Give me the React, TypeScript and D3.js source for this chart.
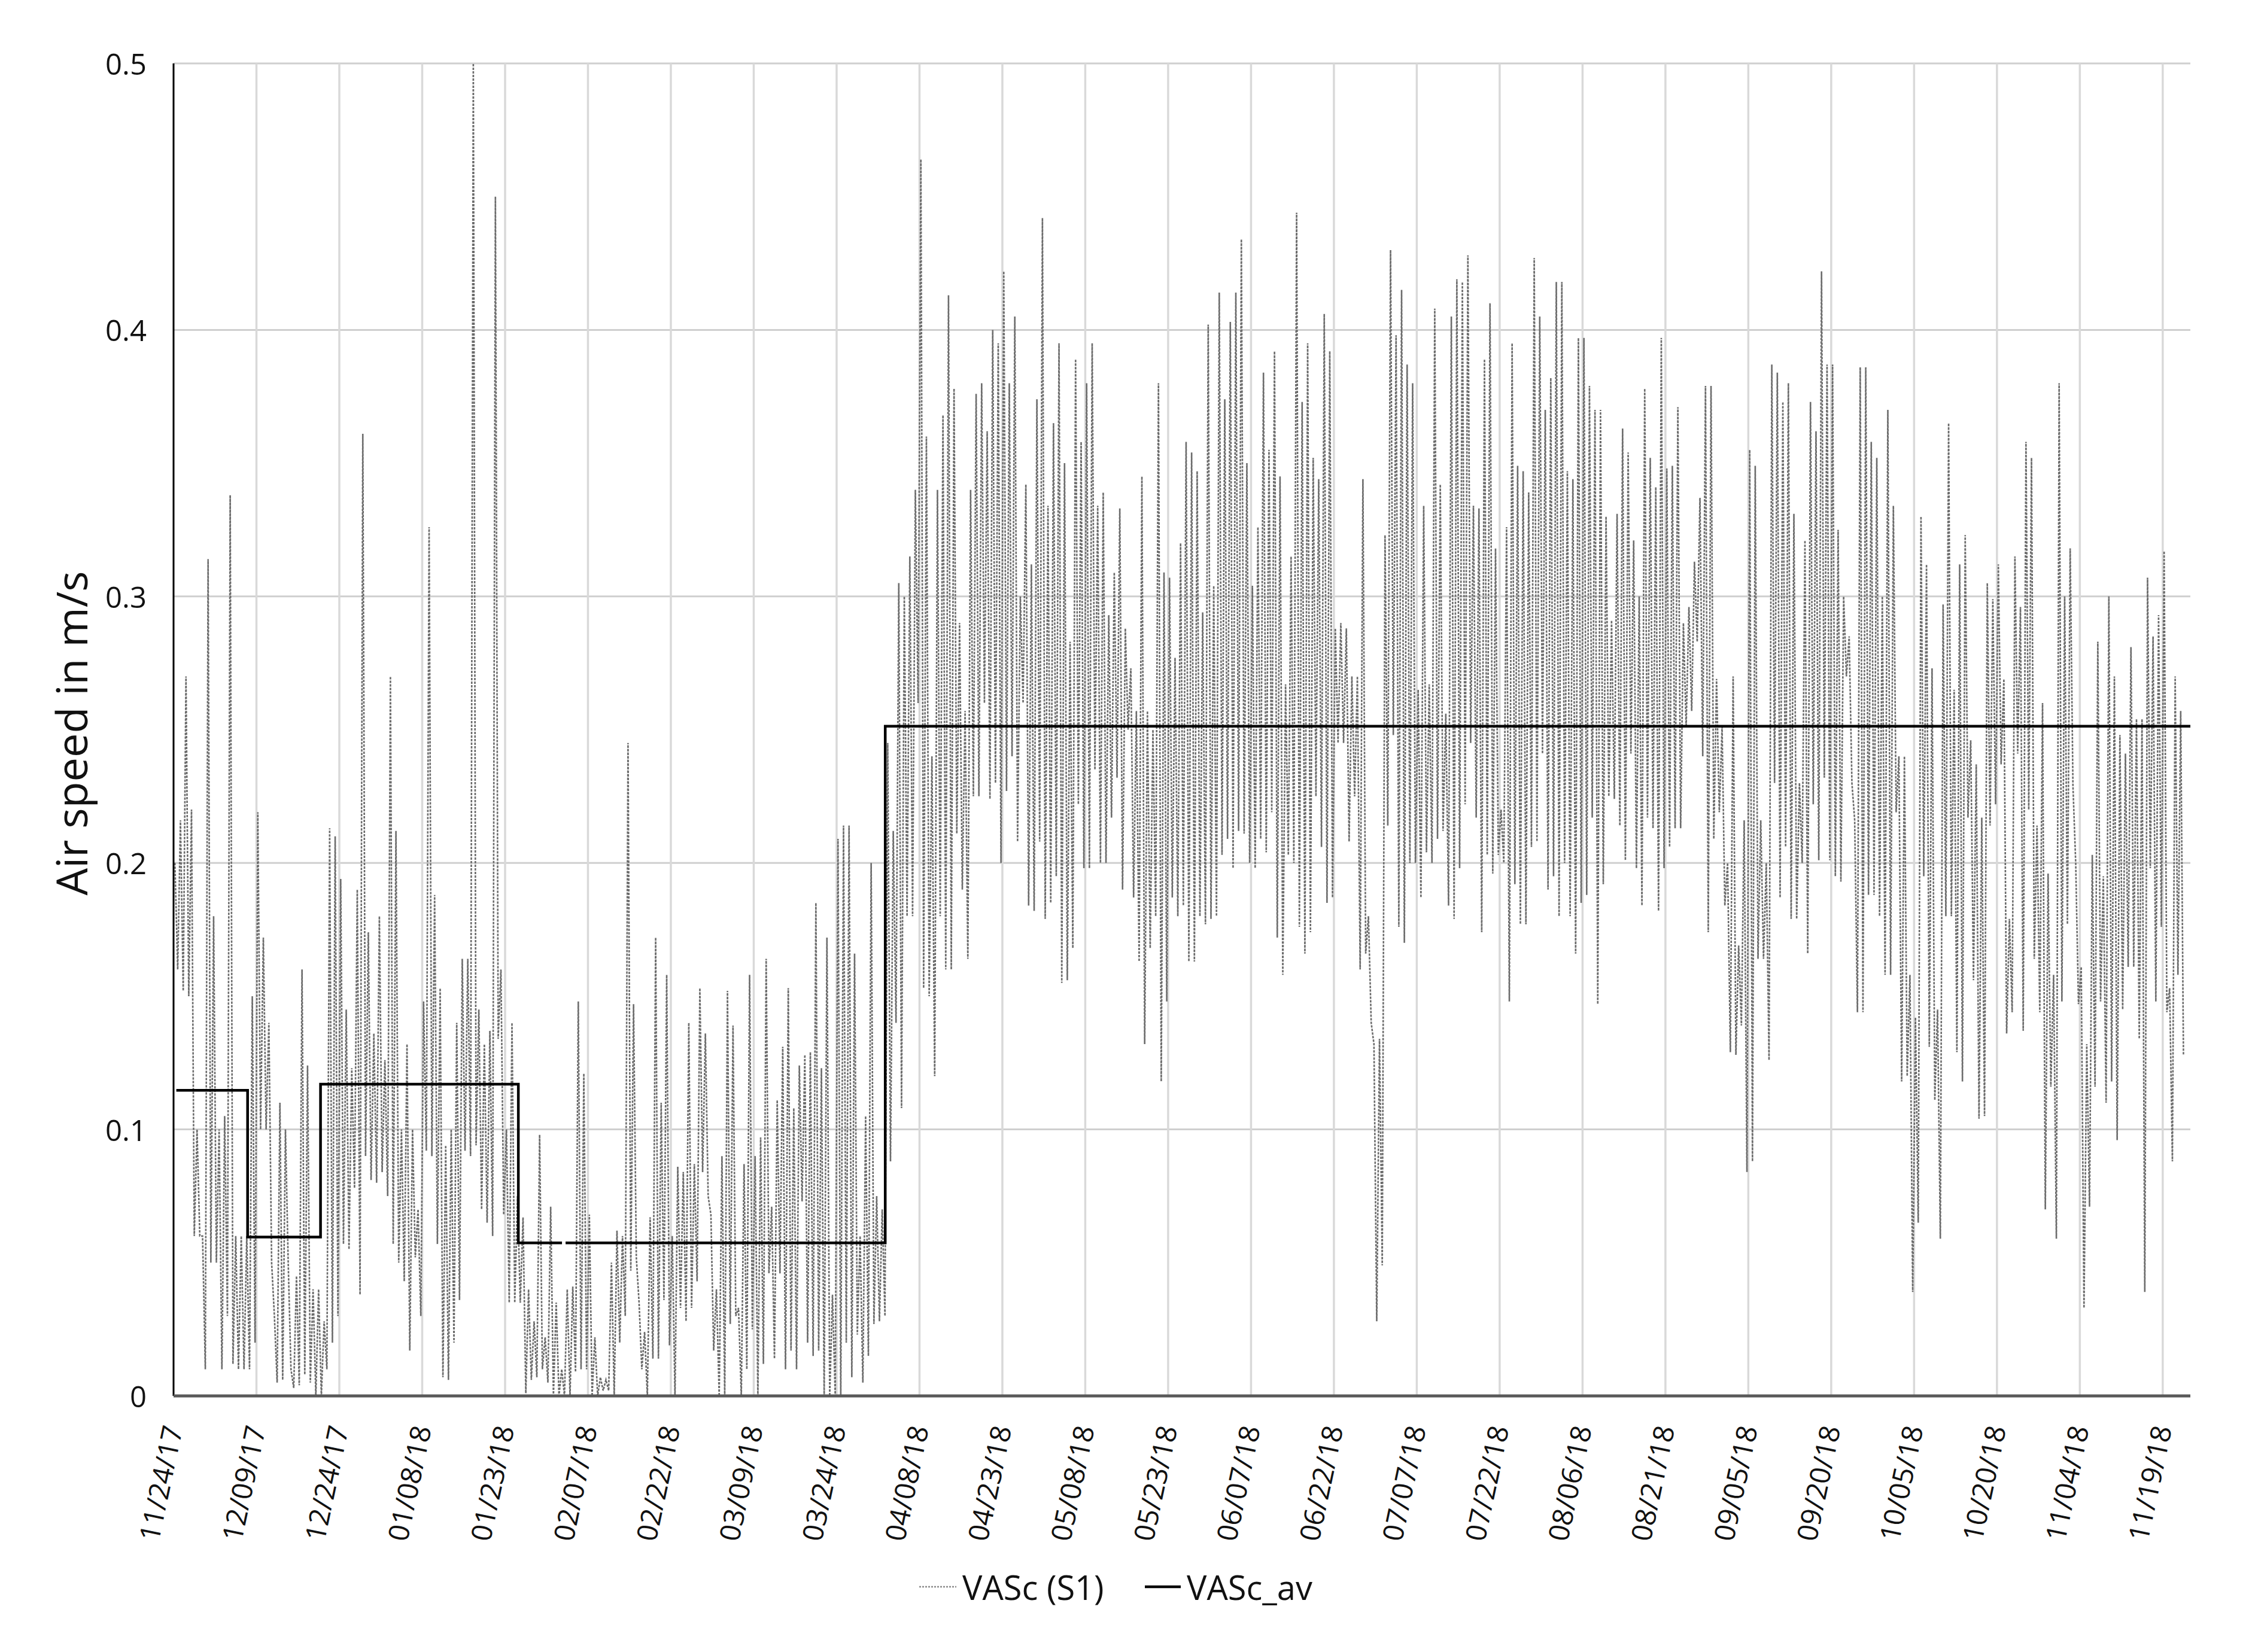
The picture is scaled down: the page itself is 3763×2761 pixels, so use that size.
import React from 'react';
import * as d3 from 'd3';

// ---------------- data ----------------
const startLabel = '11/24/17';
const tickLabels = ['11/24/17','12/09/17','12/24/17','01/08/18','01/23/18','02/07/18','02/22/18','03/09/18','03/24/18','04/08/18','04/23/18','05/08/18','05/23/18','06/07/18','06/22/18','07/07/18','07/22/18','08/06/18','08/21/18','09/05/18','09/20/18','10/05/18','10/20/18','11/04/18','11/19/18'];
const yTicks = [0, 0.1, 0.2, 0.3, 0.4, 0.5];
const yTickLabels = ['0', '0.1', '0.2', '0.3', '0.4', '0.5'];

// VASc (S1): daily peak and trough (one entry per day from 11/24/17)
const dailyHigh = [
0.2,0.216,0.27,0.22,0.1,0.06,0.314,0.18,0.1,0.105,
0.338,0.06,0.06,0.06,0.15,0.219,0.172,0.14,0.03,0.11,
0.1,0.01,0.045,0.16,0.124,0.04,0.04,0.028,0.213,0.21,
0.194,0.145,0.123,0.19,0.361,0.174,0.136,0.18,0.126,0.27,
0.212,0.1,0.132,0.1,0.07,0.148,0.326,0.188,0.153,0.094,
0.1,0.14,0.164,0.164,0.5,0.145,0.132,0.137,0.45,0.16,
0.1,0.14,0.075,0.067,0.04,0.028,0.098,0.022,0.071,0.035,
0.01,0.04,0.041,0.148,0.121,0.068,0.022,0.007,0.006,0.05,
0.062,0.06,0.245,0.147,0.035,0.024,0.067,0.172,0.11,0.158,
0.06,0.086,0.084,0.14,0.087,0.153,0.136,0.068,0.04,0.09,
0.152,0.139,0.033,0.087,0.158,0.09,0.097,0.164,0.071,0.111,
0.131,0.153,0.108,0.124,0.128,0.129,0.185,0.123,0.172,0.038,
0.209,0.214,0.214,0.166,0.06,0.105,0.2,0.075,0.07,0.245,
0.212,0.305,0.3,0.315,0.34,0.464,0.36,0.24,0.34,0.368,
0.413,0.378,0.29,0.257,0.34,0.376,0.38,0.362,0.4,0.395,
0.422,0.38,0.405,0.3,0.342,0.312,0.374,0.442,0.334,0.365,
0.395,0.35,0.283,0.389,0.358,0.38,0.395,0.334,0.339,0.293,
0.309,0.333,0.288,0.273,0.257,0.345,0.257,0.25,0.38,0.309,
0.307,0.277,0.32,0.358,0.354,0.347,0.294,0.402,0.304,0.414,
0.374,0.403,0.414,0.434,0.35,0.304,0.326,0.384,0.355,0.392,
0.345,0.267,0.315,0.444,0.373,0.395,0.352,0.344,0.406,0.392,
0.288,0.29,0.288,0.27,0.27,0.344,0.18,0.132,0.134,0.323,
0.43,0.398,0.415,0.387,0.38,0.265,0.334,0.267,0.408,0.342,
0.256,0.405,0.419,0.418,0.428,0.334,0.333,0.389,0.41,0.318,
0.22,0.326,0.395,0.349,0.347,0.339,0.427,0.405,0.37,0.382,
0.418,0.418,0.347,0.344,0.397,0.397,0.379,0.37,0.37,0.33,
0.291,0.331,0.363,0.354,0.321,0.3,0.378,0.352,0.341,0.397,
0.348,0.349,0.371,0.29,0.296,0.313,0.337,0.379,0.379,0.269,
0.251,0.2,0.27,0.169,0.216,0.355,0.349,0.216,0.2,0.387,
0.384,0.373,0.38,0.331,0.23,0.321,0.373,0.362,0.422,0.387,
0.387,0.325,0.3,0.285,0.216,0.386,0.386,0.358,0.352,0.3,
0.37,0.334,0.24,0.24,0.158,0.142,0.33,0.312,0.273,0.145,
0.297,0.365,0.265,0.312,0.323,0.246,0.237,0.217,0.305,0.299,
0.312,0.269,0.179,0.315,0.296,0.358,0.352,0.214,0.26,0.196,
0.158,0.38,0.3,0.318,0.2,0.161,0.132,0.203,0.283,0.195,
0.3,0.27,0.248,0.241,0.281,0.254,0.254,0.307,0.285,0.293,
0.317,0.153,0.27,0.257
];
const dailyLow = [
0.16,0.152,0.15,0.06,0.06,0.01,0.05,0.05,0.01,0.03,
0.012,0.01,0.01,0.01,0.02,0.1,0.1,0.05,0.005,0.006,
0.05,0.003,0.004,0.008,0.005,0,0,0.01,0.02,0.03,
0.057,0.055,0.078,0.038,0.09,0.081,0.08,0.084,0.075,0.057,
0.05,0.043,0.017,0.052,0.03,0.092,0.09,0.057,0.007,0.006,
0.02,0.036,0.092,0.09,0.094,0.07,0.065,0.06,0.134,0.068,
0.035,0.035,0.035,0.001,0.006,0.007,0.01,0.005,0,0,
0,0,0.009,0.01,0.01,0,0,0.002,0.002,0,
0.02,0.03,0.047,0.052,0.01,0,0.014,0.014,0.036,0.019,
0,0.033,0.028,0.033,0.043,0.084,0.075,0.017,0,0,
0.027,0.03,0,0.01,0.025,0,0.012,0.046,0.014,0.046,
0.01,0.017,0.01,0.073,0.02,0.015,0.017,0,0,0,
0,0.02,0.007,0.023,0.005,0.015,0.027,0.028,0.03,0.088,
0.14,0.108,0.18,0.18,0.26,0.153,0.15,0.12,0.18,0.16,
0.16,0.211,0.19,0.164,0.225,0.225,0.26,0.224,0.23,0.2,
0.227,0.24,0.208,0.26,0.184,0.182,0.208,0.179,0.185,0.195,
0.155,0.156,0.168,0.222,0.198,0.198,0.235,0.2,0.2,0.217,
0.232,0.19,0.25,0.187,0.163,0.132,0.168,0.18,0.118,0.148,
0.187,0.18,0.184,0.163,0.163,0.18,0.177,0.179,0.18,0.203,
0.209,0.198,0.212,0.211,0.2,0.198,0.209,0.204,0.219,0.172,
0.158,0.203,0.2,0.176,0.166,0.174,0.225,0.206,0.185,0.187,
0.245,0.245,0.208,0.225,0.16,0.166,0.14,0.028,0.049,0.214,
0.248,0.176,0.17,0.2,0.2,0.187,0.204,0.2,0.209,0.212,
0.184,0.179,0.198,0.222,0.245,0.217,0.174,0.203,0.196,0.203,
0.2,0.148,0.192,0.177,0.177,0.206,0.208,0.241,0.19,0.195,
0.18,0.2,0.18,0.166,0.185,0.188,0.217,0.147,0.192,0.225,
0.224,0.214,0.201,0.241,0.198,0.184,0.217,0.213,0.182,0.198,
0.206,0.213,0.213,0.251,0.257,0.283,0.24,0.174,0.209,0.219,
0.184,0.129,0.128,0.139,0.084,0.088,0.164,0.164,0.126,0.23,
0.187,0.206,0.179,0.179,0.2,0.166,0.222,0.201,0.232,0.201,
0.195,0.193,0.27,0.23,0.144,0.144,0.188,0.188,0.18,0.158,
0.158,0.219,0.118,0.12,0.039,0.065,0.195,0.131,0.111,0.059,
0.18,0.18,0.129,0.118,0.217,0.156,0.104,0.105,0.214,0.222,
0.237,0.136,0.144,0.241,0.137,0.22,0.164,0.144,0.07,0.116,
0.059,0.148,0.177,0.229,0.147,0.033,0.071,0.116,0.148,0.11,
0.118,0.096,0.145,0.161,0.161,0.134,0.039,0.198,0.148,0.176,
0.144,0.088,0.158,0.128
];

// VASc_av: stepped average periods (day offsets from 11/24/17)
const avgFromDay = [0.5, 13.4, 26.6, 62.4, 70.95, 128.8];
const avgToDay = [13.4, 26.6, 62.4, 70.3, 128.8, 365];
const avgValue = [0.1147, 0.0596, 0.117, 0.0574, 0.0574, 0.2513];

const seriesNames = ['VASc (S1)', 'VASc_av'];

// ---------------- layout ----------------
const W = 3763, H = 2761;
const M = { left: 290, right: 3660, top: 106, bottom: 2333 };
const FONT = '"Open Sans", "Noto Sans", sans-serif';

const DAY = 86400000;
const parse = d3.utcParse('%m/%d/%y');
const t0 = parse(startLabel) as Date;
const at = (d: number) => new Date(t0.getTime() + d * DAY);

export default function App() {
  const x = d3.scaleUtc().domain([t0, at(365)]).range([M.left, M.right]);
  const y = d3.scaleLinear().domain([0, 0.5]).range([M.bottom, M.top]);

  const pts: { t: Date; v: number }[] = [];
  dailyHigh.forEach((h, i) => {
    pts.push({ t: at(i + 0.25), v: h });
    pts.push({ t: at(i + 0.75), v: dailyLow[i] });
  });
  const line = d3.line<{ t: Date; v: number }>().x(p => x(p.t)).y(p => y(p.v));

  const avgPts: ({ t: Date; v: number } | null)[] = [];
  avgFromDay.forEach((f, i) => {
    if (i > 0 && Math.abs(avgToDay[i - 1] - f) > 0.01) avgPts.push(null);
    avgPts.push({ t: at(f), v: avgValue[i] });
    avgPts.push({ t: at(avgToDay[i]), v: avgValue[i] });
  });
  const avgLine = d3.line<any>().defined(p => p !== null).x(p => x(p.t)).y(p => y(p.v));

  const ticks = tickLabels.map(l => ({ label: l, t: parse(l) as Date }));

  return (
    <svg width={W} height={H} style={{ position: 'absolute', left: 0, top: 0, background: '#fff' }} xmlns="http://www.w3.org/2000/svg">
      <rect x={0} y={0} width={W} height={H} fill="#fff" />
      {yTicks.filter(v => v > 0).map(v => (
        <line key={'hg' + v} x1={M.left} x2={M.right} y1={y(v)} y2={y(v)} stroke="#cfcfcf" strokeWidth={3} />
      ))}
      {ticks.slice(1).map(tk => (
        <line key={'vg' + tk.label} x1={x(tk.t)} x2={x(tk.t)} y1={M.top} y2={M.bottom} stroke="#d9d9d9" strokeWidth={3.5} />
      ))}
      <path d={line(pts) || ''} fill="none" stroke="#6c6c6c" strokeWidth={2.6} strokeDasharray="4 2" />
      <path d={avgLine(avgPts) || ''} fill="none" stroke="#000" strokeWidth={4.5} />
      <line x1={M.left} x2={M.left} y1={M.top} y2={M.bottom} stroke="#000" strokeWidth={3} />
      <line x1={M.left} x2={M.right} y1={M.bottom} y2={M.bottom} stroke="#595959" strokeWidth={5} />
      {yTicks.map((v, i) => (
        <text key={'yl' + v} x={245} y={y(v)} textAnchor="end" dominantBaseline="central" fontFamily={FONT} fontSize={49} fill="#111">{yTickLabels[i]}</text>
      ))}
      {ticks.map(tk => (
        <text key={'xl' + tk.label} transform={`translate(${x(tk.t) - 2},${M.bottom + 50}) rotate(-78)`} textAnchor="end" dominantBaseline="central" fontFamily={FONT} fontSize={47} fill="#111">{tk.label}</text>
      ))}
      <text transform={`translate(118,${(M.top + M.bottom) / 2 + 6}) rotate(-90)`} textAnchor="middle" dominantBaseline="central" fontFamily={FONT} fontSize={72} fill="#111">Air speed in m/s</text>
      <g fontFamily={FONT} fontSize={56} fill="#111">
        <line x1={1536} x2={1598} y1={2652} y2={2652} stroke="#8a8a8a" strokeWidth={2.4} strokeDasharray="3 2" />
        <text x={1608} y={2652} dominantBaseline="central">{seriesNames[0]}</text>
        <line x1={1913} x2={1973} y1={2652} y2={2652} stroke="#000" strokeWidth={4.5} />
        <text x={1983} y={2652} dominantBaseline="central">{seriesNames[1]}</text>
      </g>
    </svg>
  );
}
